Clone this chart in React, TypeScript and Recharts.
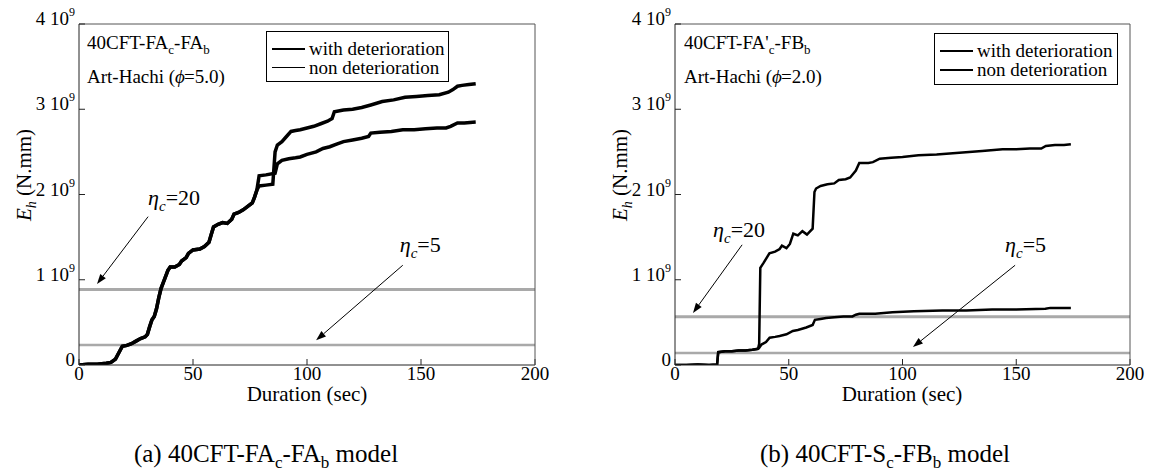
import React from "react";
import { LineChart, Line, XAxis, YAxis, ReferenceLine, Legend } from "recharts";

const FONT = "Liberation Serif, DejaVu Serif, serif";

const xTicks = [0, 50, 100, 150, 200];
const yTicks = [0, 1, 2, 3, 4]; // x 10^9 N.mm
const seriesNames = ["with deterioration", "non deterioration"];

// (a) 40CFT-FAc-FAb : both runs overlap until ~78 s
const aSharedT = [0, 4, 8, 12, 14, 16, 17, 18, 19, 21, 23, 25, 27, 29, 30, 31, 32, 33, 34, 35, 36, 37, 38, 39, 40, 42, 44, 45, 47, 48, 50, 53, 55, 57, 58, 59, 61, 63, 65, 67, 68, 70, 72, 74, 76, 77, 78];
const aSharedE = [0, 0.01, 0.01, 0.02, 0.03, 0.07, 0.12, 0.17, 0.22, 0.23, 0.25, 0.28, 0.31, 0.33, 0.36, 0.45, 0.53, 0.57, 0.66, 0.79, 0.9, 0.97, 1.04, 1.11, 1.15, 1.15, 1.18, 1.22, 1.26, 1.31, 1.35, 1.36, 1.39, 1.44, 1.53, 1.62, 1.65, 1.67, 1.66, 1.71, 1.77, 1.79, 1.82, 1.86, 1.9, 1.97, 2.05];
const aWithT = [79, 82, 86, 87, 89, 92, 95, 97, 100, 104, 107, 110, 113, 116, 120, 124, 127, 128, 132, 137, 142, 147, 152, 157, 161, 163, 166, 169, 174];
const aWithE = [2.22, 2.23, 2.25, 2.36, 2.4, 2.42, 2.43, 2.44, 2.47, 2.5, 2.54, 2.56, 2.59, 2.62, 2.64, 2.66, 2.68, 2.72, 2.73, 2.74, 2.76, 2.76, 2.77, 2.78, 2.78, 2.8, 2.84, 2.84, 2.85];
const aNonT = [79, 82, 85, 86, 87, 89, 91, 93, 95, 97, 100, 103, 106, 109, 111, 112, 116, 120, 124, 128, 133, 138, 143, 148, 153, 158, 162, 164, 166, 168, 171, 174];
const aNonE = [2.1, 2.11, 2.12, 2.5, 2.58, 2.62, 2.68, 2.74, 2.75, 2.76, 2.78, 2.8, 2.83, 2.86, 2.89, 2.97, 2.99, 3.0, 3.02, 3.05, 3.09, 3.11, 3.14, 3.15, 3.16, 3.17, 3.2, 3.23, 3.27, 3.28, 3.29, 3.3];
const aEta = [0.887, 0.234]; // eta_c = 20, 5

// (b) 40CFT-Sc-FBb
const bSharedT = [0, 5, 10, 15, 18.5, 19, 22, 25, 28, 31, 34, 36.5];
const bSharedE = [0, 0, 0.005, 0, 0.005, 0.15, 0.16, 0.16, 0.17, 0.17, 0.18, 0.19];
const bNonT = [37, 37.5, 39, 41.5, 44, 46, 47, 49, 50.5, 52, 54, 56, 58, 60.5, 61.3, 62, 64, 67, 70, 72, 75, 77, 79.5, 81, 85, 87, 90, 95, 100, 107, 115, 125, 135, 144, 150, 156, 161, 163, 167, 171, 174];
const bNonE = [0.25, 1.14, 1.2, 1.31, 1.33, 1.36, 1.4, 1.37, 1.42, 1.54, 1.52, 1.57, 1.53, 1.6, 2.03, 2.07, 2.1, 2.12, 2.13, 2.17, 2.18, 2.2, 2.28, 2.37, 2.37, 2.38, 2.42, 2.43, 2.44, 2.46, 2.47, 2.49, 2.51, 2.53, 2.53, 2.54, 2.54, 2.57, 2.58, 2.58, 2.59];
const bWithT = [37, 38, 40, 41.6, 44, 46, 49, 51.8, 54, 57.7, 60.5, 61.5, 64, 66.4, 70, 74, 78, 79.5, 81, 88, 95.6, 105, 117.5, 128, 139.4, 150, 162.8, 165, 174];
const bWithE = [0.2, 0.24, 0.27, 0.32, 0.33, 0.34, 0.36, 0.4, 0.41, 0.44, 0.47, 0.53, 0.54, 0.55, 0.56, 0.57, 0.57, 0.59, 0.6, 0.6, 0.62, 0.63, 0.64, 0.64, 0.65, 0.65, 0.66, 0.67, 0.67];
const bEta = [0.566, 0.14];

// arrows: [t from, E from, t to, E to], label, label offset
const aArrows = [
  { seg: [30.3, 1.74, 7.9, 0.95], label: "20", dx: 0, dy: -12 },
  { seg: [142, 1.17, 104, 0.29], label: "5", dx: -3, dy: -13 },
];
const bArrows = [
  { seg: [29.5, 1.41, 7.9, 0.61], label: "20", dx: -29, dy: -8 },
  { seg: [149.5, 1.17, 104.6, 0.21], label: "5", dx: -10, dy: -13 },
];

const zip = (t: number[], e: number[]) => t.map((v, i) => ({ t: v, e: e[i] }));

const XTick = (props: any) => {
  const { x, y, payload } = props;
  return (
    <text x={x} y={y} dy={13} textAnchor="middle" fontFamily={FONT} fontSize={19} fill="#000">
      {payload.value}
    </text>
  );
};

const YTick = (props: any) => {
  const { x, y, payload } = props;
  if (payload.value === 0) {
    return (
      <text x={x} y={y} dy={1} textAnchor="end" fontFamily={FONT} fontSize={19} fill="#000">
        0
      </text>
    );
  }
  return (
    <text x={x} y={y} dy={1} textAnchor="end" fontFamily={FONT} fontSize={19} fill="#000">
      <tspan>{`${payload.value} 10`}</tspan>
      <tspan dy={-9} fontSize={12}>9</tspan>
    </text>
  );
};

function arrowShape(label: string, dx: number, dy: number) {
  return (p: any) => {
    const { x1, y1, x2, y2 } = p;
    const ang = Math.atan2(y2 - y1, x2 - x1);
    const bx = x2 - 10 * Math.cos(ang);
    const by = y2 - 10 * Math.sin(ang);
    const px = -Math.sin(ang) * 3.5;
    const py = Math.cos(ang) * 3.5;
    return (
      <g>
        <line x1={x1} y1={y1} x2={bx} y2={by} stroke="#000" strokeWidth={1} />
        <polygon points={`${x2},${y2} ${bx + px},${by + py} ${bx - px},${by - py}`} fill="#000" />
        <text x={x1 + dx} y={y1 + dy} fontFamily={FONT} fontSize={22} fill="#000">
          <tspan fontStyle="italic">η</tspan>
          <tspan fontStyle="italic" fontSize={15} dy={6}>c</tspan>
          <tspan dy={-6}>{`=${label}`}</tspan>
        </text>
      </g>
    );
  };
}

const legendBox = (widths: number[]) => (props: any) => (
  <div
    style={{
      border: "1.5px solid #000",
      background: "#fff",
      boxSizing: "border-box",
      width: "100%",
      height: "100%",
      padding: "7px 0 0 5px",
      fontFamily: FONT,
      fontSize: 19,
      color: "#000",
    }}
  >
    {(props.payload || []).map((item: any, i: number) => (
      <div key={i} style={{ display: "flex", alignItems: "center", height: 19, whiteSpace: "nowrap" }}>
        <span
          style={{
            display: "inline-block",
            width: 33,
            borderTop: `${widths[i]}px solid #000`,
            marginRight: 4,
          }}
        />
        {item.value}
      </div>
    ))}
  </div>
);

function Panel(props: any) {
  const { left, width, mLeft, mRight, withData, nonData, eta, arrows, legendPos, legendWidths, lineWidth } = props;
  return (
    <div style={{ position: "absolute", left, top: 0 }}>
      <LineChart width={width} height={472} margin={{ top: 19, right: mRight, bottom: 77, left: mLeft }}>
        <XAxis
          dataKey="t"
          type="number"
          domain={[0, 200]}
          ticks={xTicks}
          interval={0}
          allowDataOverflow
          height={30}
          tickSize={-6}
          tickMargin={8}
          tick={<XTick />}
          stroke="#222"
        />
        <XAxis
          xAxisId="top"
          orientation="top"
          type="number"
          domain={[0, 200]}
          ticks={xTicks}
          interval={0}
          allowDataOverflow
          height={5}
          tickSize={-6}
          tick={false}
          stroke="#555"
        />
        <YAxis
          type="number"
          domain={[0, 4]}
          ticks={yTicks}
          interval={0}
          allowDataOverflow
          width={60}
          tickSize={-6}
          tickMargin={10}
          tick={<YTick />}
          stroke="#222"
        />
        <YAxis
          yAxisId="right"
          orientation="right"
          type="number"
          domain={[0, 4]}
          ticks={yTicks}
          interval={0}
          allowDataOverflow
          width={5}
          tickSize={-6}
          tick={false}
          stroke="#555"
        />
        <ReferenceLine y={eta[0]} stroke="#a9a9a9" strokeWidth={3} />
        <ReferenceLine y={eta[1]} stroke="#a9a9a9" strokeWidth={2.5} />
        <Line
          data={withData}
          dataKey="e"
          name={seriesNames[0]}
          stroke="#000"
          strokeWidth={lineWidth}
          dot={false}
          isAnimationActive={false}
        />
        <Line
          data={nonData}
          dataKey="e"
          name={seriesNames[1]}
          stroke="#000"
          strokeWidth={lineWidth}
          dot={false}
          isAnimationActive={false}
        />
        {arrows.map((a: any, i: number) => (
          <ReferenceLine
            key={i}
            segment={[
              { x: a.seg[0], y: a.seg[1] },
              { x: a.seg[2], y: a.seg[3] },
            ]}
            shape={arrowShape(a.label, a.dx, a.dy)}
          />
        ))}
        <Legend
          layout="horizontal"
          verticalAlign="middle"
          align="center"
          itemSorter={(item: any) => seriesNames.indexOf(item.value)}
          content={legendBox(legendWidths)}
          wrapperStyle={{ left: legendPos[0], top: legendPos[1], width: legendPos[2], height: legendPos[3] }}
        />
      </LineChart>
    </div>
  );
}

// text with two subscripts: pre, sub1, mid, sub2, post
function SubText(props: any) {
  const { x, y, size, subSize, drop, parts, anchor } = props;
  return (
    <text x={x} y={y} fontSize={size} textAnchor={anchor || "start"}>
      <tspan>{parts[0]}</tspan>
      <tspan dy={drop} fontSize={subSize}>{parts[1]}</tspan>
      <tspan dy={-drop}>{parts[2]}</tspan>
      <tspan dy={drop} fontSize={subSize}>{parts[3]}</tspan>
      {parts[4] ? <tspan dy={-drop}>{parts[4]}</tspan> : null}
    </text>
  );
}

export default function App() {
  return (
    <div style={{ position: "absolute", left: 0, top: 0, width: 1151, height: 472, background: "#fff" }}>
      <Panel
        left={0}
        width={575}
        mLeft={19}
        mRight={35}
        withData={zip([...aSharedT, ...aWithT], [...aSharedE, ...aWithE])}
        nonData={zip([...aSharedT, ...aNonT], [...aSharedE, ...aNonE])}
        eta={aEta}
        arrows={aArrows}
        legendPos={[266, 31, 183, 51]}
        legendWidths={[2.5, 1]}
        lineWidth={3.5}
      />
      <Panel
        left={575}
        width={576}
        mLeft={40}
        mRight={16}
        withData={zip([...bSharedT, ...bWithT], [...bSharedE, ...bWithE])}
        nonData={zip([...bSharedT, ...bNonT], [...bSharedE, ...bNonE])}
        eta={bEta}
        arrows={bArrows}
        legendPos={[359, 33, 184, 52]}
        legendWidths={[2.5, 2.5]}
        lineWidth={2.5}
      />
      <svg
        width={1151}
        height={472}
        style={{ position: "absolute", left: 0, top: 0, pointerEvents: "none" }}
        fontFamily={FONT}
        fill="#000"
      >
        {/* in-plot annotations */}
        <SubText x={87} y={49} size={19} subSize={13} drop={5} parts={["40CFT-FA", "c", "-FA", "b"]} />
        <text x={87} y={83} fontSize={19}>
          <tspan>Art-Hachi (</tspan>
          <tspan fontStyle="italic">ϕ</tspan>
          <tspan dx={-1}>=5.0)</tspan>
        </text>
        <SubText x={684} y={49} size={19} subSize={13} drop={5} parts={["40CFT-FA'", "c", "-FB", "b"]} />
        <text x={684} y={83} fontSize={19}>
          <tspan>Art-Hachi (</tspan>
          <tspan fontStyle="italic">ϕ</tspan>
          <tspan dx={-1}>=2.0)</tspan>
        </text>

        {/* axis titles */}
        {[31, 627].map((x) => (
          <text key={x} transform={`translate(${x},175) rotate(-90)`} textAnchor="middle" fontSize={21}>
            <tspan fontStyle="italic">E</tspan>
            <tspan fontStyle="italic" fontSize={14} dy={5}>h</tspan>
            <tspan dy={-5}> (N.mm)</tspan>
          </text>
        ))}
        {[307, 902].map((x) => (
          <text key={x} x={x} y={401} textAnchor="middle" fontSize={21}>
            Duration (sec)
          </text>
        ))}

        {/* captions */}
        <SubText x={266} y={462} size={25} subSize={17} drop={6} anchor="middle" parts={["(a) 40CFT-FA", "c", "-FA", "b", " model"]} />
        <SubText x={885} y={462} size={25} subSize={17} drop={6} anchor="middle" parts={["(b) 40CFT-S", "c", "-FB", "b", " model"]} />
      </svg>
    </div>
  );
}
